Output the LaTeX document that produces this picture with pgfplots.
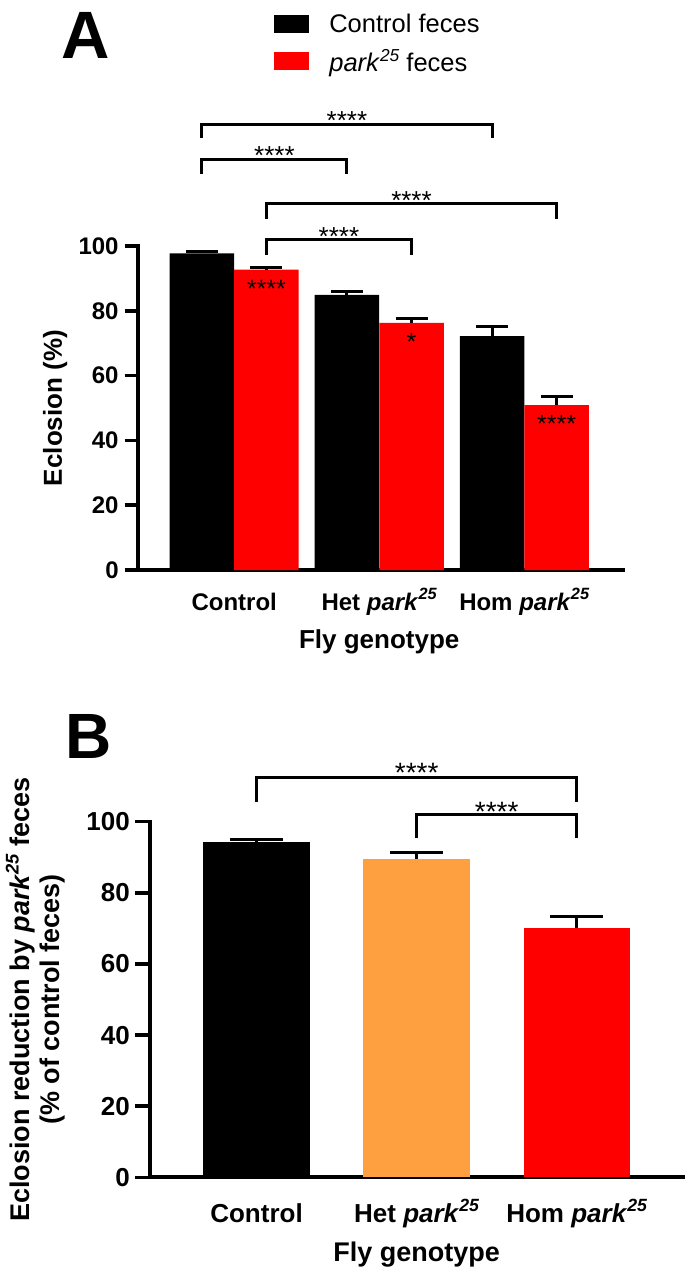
\documentclass[border=0pt]{standalone}
\usepackage{fontspec}
\setmainfont{Liberation Sans}
\usepackage{graphicx}
\usepackage{pgfplots}
\pgfplotsset{compat=1.18}

\definecolor{barred}{RGB}{255,0,0}
\definecolor{barorange}{RGB}{255,160,64}
\newcommand\fs[1]{\fontsize{#1}{#1}\selectfont}
\newcommand\sups[1]{\raisebox{0.42em}{\scalebox{0.68}{#1}}}
\newcommand\park{\textit{park}\sups{\textit{25}}}

\pgfplotsset{
  prism/.style={
    scale only axis, anchor=south west, clip=false,
    axis lines=left, axis line style={-, line width=4pt, line cap=rect},
    ymin=0, ymax=100, ytick={0,20,...,100},
    xtick=\empty, tick align=outside,
    ytick style={line width=3.5pt, black},
    /pgf/number format/assume math mode=true,
    yticklabel style={anchor=east, inner sep=0pt},
  },
  errs/.style={error bars/.cd, y dir=plus, y explicit, error mark=|,
    error bar style={draw=black, line width=3pt},
    error mark options={draw=black, line width=3pt, mark size=#1}},
  bracket/.style={sharp plot, line width=3pt, black, forget plot, mark=none},
}

\begin{document}
\begin{tikzpicture}
\useasboundingbox (0pt,0pt) rectangle (685pt,-1275pt);

% panel A: groups at 0,1,2; the two bars of a group at -0.2225 and +0.2225
\begin{axis}[prism, at={(137.6pt,-570pt)}, width=485pt, height=324pt,
  xmin=-0.666, xmax=2.678, major tick length=13pt,
  yticklabel style={font=\fs{24}\bfseries, xshift=-5.8pt},
  legend image code/.code={\fill[#1] (0pt,-9pt) rectangle (35pt,9pt);},
  legend style={at={(axis description cs:0.2819,1.716)}, anchor=north west,
    draw=none, fill=none, inner sep=0pt, outer sep=0pt, row sep=15pt, column sep=0pt,
    font=\fs{25.5}, cells={anchor=west}, nodes={inner sep=0pt}},
]
\addplot[ybar, bar width=64.5pt, bar shift=0pt, fill=black, draw=none, errs=16pt]
  coordinates {(-0.2225,97.7) +- (0,0.6) (0.7775,84.9) +- (0,1.0) (1.7775,72.2) +- (0,2.9)};
\addplot[ybar, bar width=64.5pt, bar shift=0pt, fill=barred, draw=none, errs=16pt]
  coordinates {(0.2225,92.7) +- (0,0.8) (1.2225,76.3) +- (0,1.4) (2.2225,50.9) +- (0,2.6)};
\legend{\hspace*{20pt}Control feces, \hspace*{20pt}\park{} feces}

\addplot[bracket] coordinates {(-0.2225,133.3) (-0.2225,137.65) (1.7775,137.65) (1.7775,133.3)};
\addplot[bracket] coordinates {(-0.2225,122.2) (-0.2225,126.85) (0.7775,126.85) (0.7775,122.2)};
\addplot[bracket] coordinates {(0.2225,108.3) (0.2225,113.27) (2.2225,113.27) (2.2225,108.3)};
\addplot[bracket] coordinates {(0.2225,97.2) (0.2225,102.16) (1.2225,102.16) (1.2225,97.2)};

\node[anchor=base, font=\fs{26}] at (axis cs:0.7775,136.1) {****};
\node[anchor=base, font=\fs{26}] at (axis cs:0.2775,125.2) {****};
\node[anchor=base, font=\fs{26}] at (axis cs:1.2225,111.3) {****};
\node[anchor=base, font=\fs{26}] at (axis cs:0.7225,100.2) {****};
\node[anchor=base, font=\fs{25}] at (axis cs:0.2225,84.1) {****};
\node[anchor=base, font=\fs{25}] at (axis cs:1.2225,67.8) {*};
\node[anchor=base, font=\fs{25}] at (axis cs:2.2225,42.5) {****};

\node[anchor=base, font=\fs{24}\bfseries] at ([yshift=-40pt]axis cs:0,0) {Control};
\node[anchor=base, font=\fs{24}\bfseries] at ([yshift=-40pt]axis cs:1,0) {Het \park};
\node[anchor=base, font=\fs{24}\bfseries] at ([yshift=-40pt]axis cs:2,0) {Hom \park};
\node[anchor=base, font=\fs{26}\bfseries] at ([yshift=-78.6pt]axis cs:1,0) {Fly genotype};
\node[rotate=90, anchor=base, font=\fs{26}\bfseries] at ([xshift=-75.6pt]axis description cs:0,0.5) {Eclosion (\%)};
\node[anchor=base west, inner sep=0pt, font=\fs{67}\bfseries] at ([xshift=-76.6pt,yshift=512pt]axis description cs:0,0) {A};
\end{axis}

% panel B
\begin{axis}[prism, at={(149.9pt,-1177.3pt)}, width=535.1pt, height=355.6pt,
  xmin=-0.666, xmax=2.676, major tick length=14.5pt,
  yticklabel style={font=\fs{26}\bfseries, xshift=-5.4pt},
]
\addplot[ybar, bar width=106.5pt, bar shift=0pt, fill=black, draw=none, errs=26.5pt]
  coordinates {(0,94.4) +- (0,0.5)};
\addplot[ybar, bar width=106.5pt, bar shift=0pt, fill=barorange, draw=none, errs=26.5pt]
  coordinates {(1,89.5) +- (0,1.8)};
\addplot[ybar, bar width=106.5pt, bar shift=0pt, fill=barred, draw=none, errs=26.5pt]
  coordinates {(2,70.1) +- (0,3.3)};

\addplot[bracket] coordinates {(0,105.45) (0,112.37) (2,112.37) (2,105.45)};
\addplot[bracket] coordinates {(1,95.5) (1,102.08) (2,102.08) (2,95.5)};
\node[anchor=base, font=\fs{28}] at (axis cs:1,111.13) {****};
\node[anchor=base, font=\fs{28}] at (axis cs:1.5,100.17) {****};

\node[anchor=base, font=\fs{26}\bfseries] at ([yshift=-45.4pt]axis cs:0,0) {Control};
\node[anchor=base, font=\fs{26}\bfseries] at ([yshift=-45.4pt]axis cs:1,0) {Het \park};
\node[anchor=base, font=\fs{26}\bfseries] at ([yshift=-45.4pt]axis cs:2,0) {Hom \park};
\node[anchor=base, font=\fs{27}\bfseries] at ([yshift=-83.7pt]axis cs:1,0) {Fly genotype};
\node[rotate=90, anchor=base, font=\fs{27}\bfseries] at ([xshift=-119.9pt]axis description cs:0,0.5) {Eclosion reduction by \park{} feces};
\node[rotate=90, anchor=base, font=\fs{27}\bfseries] at ([xshift=-89.9pt]axis description cs:0,0.5) {(\% of control feces)};
\node[anchor=base west, inner sep=0pt, font=\fs{64}\bfseries] at ([xshift=-84.4pt,yshift=419.3pt]axis description cs:0,0) {B};
\end{axis}
\end{tikzpicture}
\end{document}
